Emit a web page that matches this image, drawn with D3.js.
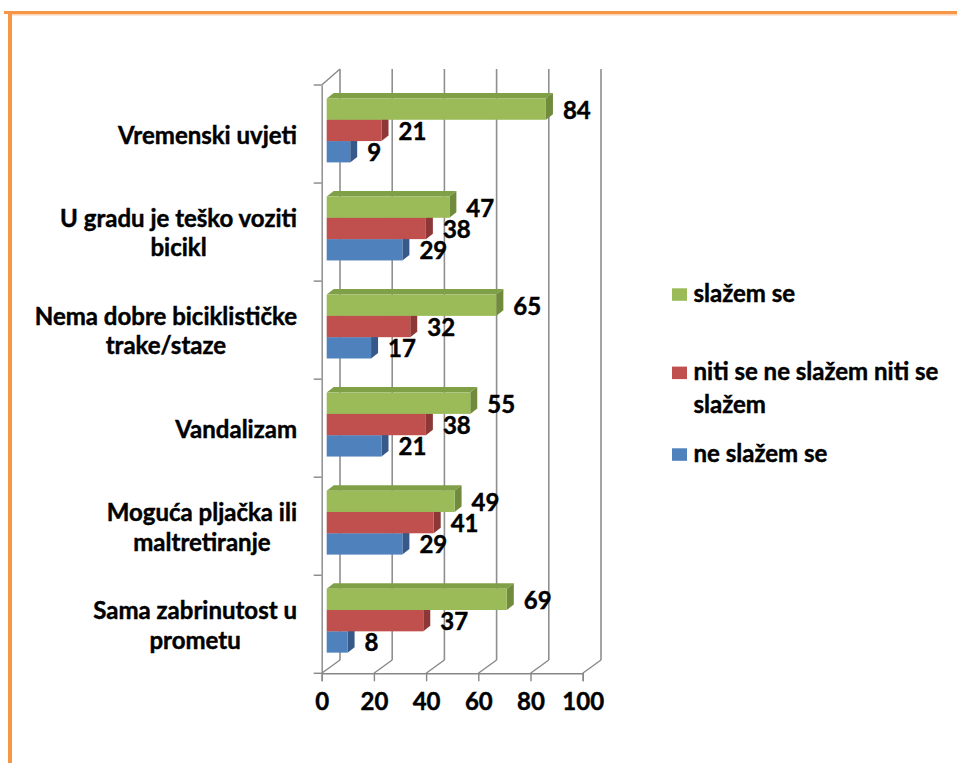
<!DOCTYPE html>
<html><head><meta charset="utf-8">
<script src="https://cdn.jsdelivr.net/npm/d3@7"></script>
<style>
html,body{margin:0;padding:0;background:#fff;}
svg{display:block;}
text{font-family:Lato,"Open Sans",sans-serif;font-weight:700;fill:#000;stroke:#000;stroke-width:0.45px;}
</style></head>
<body>
<svg id="chart" width="957" height="763"></svg>
<script>
// ---- data ----
const categories = [
  "Vremenski uvjeti",
  "U gradu je teško voziti bicikl",
  "Nema dobre biciklističke trake/staze",
  "Vandalizam",
  "Moguća pljačka ili maltretiranje",
  "Sama zabrinutost u prometu"
];
const categoryLines = [
  ["Vremenski uvjeti"],
  ["U gradu je teško voziti", "bicikl"],
  ["Nema dobre biciklističke", "trake/staze"],
  ["Vandalizam"],
  ["Moguća pljačka ili", "maltretiranje"],
  ["Sama zabrinutost u", "prometu"]
];
const seriesNames = ["slažem se", "niti se ne slažem niti se slažem", "ne slažem se"];
const legendLines = [["slažem se"], ["niti se ne slažem niti se", "slažem"], ["ne slažem se"]];
const slazemSe = [84, 47, 65, 55, 49, 69];
const niti = [21, 38, 32, 38, 41, 37];
const neSlazemSe = [9, 29, 17, 21, 29, 8];
const xTicks = [0, 20, 40, 60, 80, 100];

const seriesValues = [slazemSe, niti, neSlazemSe];
const frontColors = ["#9BBB59", "#C0504D", "#4F81BD"];
const topColors = ["#80A048", "#A0403D", "#3F6CA3"];
const sideColors = ["#6F8B3B", "#8D3836", "#37598A"];

// ---- layout ----
const svg = d3.select("#chart");
const frontX0 = 321.7, frontX1 = 582.7;
const plotTop = 85, plotBottom = 673.3;
const depth = {dx: 18.3, dy: -13.3};
const backTop = 69;
const barShift = {dx: 5, dy: -3.6};
const barDepth = {dx: 7, dy: -5.5};
const axisColor = "#878787";

// orange frame
svg.append("line").attr("x1", 8).attr("x2", 957).attr("y1", 14.8).attr("y2", 14.8)
  .attr("stroke", "#FBD4B4").attr("stroke-width", 1.5);
svg.append("line").attr("x1", 4).attr("x2", 957).attr("y1", 12.5).attr("y2", 12.5)
  .attr("stroke", "#F79646").attr("stroke-width", 3);
svg.append("line").attr("x1", 10).attr("x2", 10).attr("y1", 11).attr("y2", 763)
  .attr("stroke", "#F79646").attr("stroke-width", 4);

const xFront = d3.scaleLinear().domain([0, 100]).range([frontX0, frontX1]);
const xBack = v => xFront(v) + depth.dx;
const xBar = v => xFront(v) + barShift.dx;

const yBand = d3.scaleBand().domain(categories).range([plotTop, plotBottom]);
const ySeries = d3.scaleBand().domain(seriesNames).range([0, yBand.bandwidth()])
  .paddingInner(0).paddingOuter(0.8);

const g = svg.append("g");

// back wall gridlines
g.selectAll("line.grid").data(xTicks).join("line").attr("class", "grid")
  .attr("x1", d => xBack(d)).attr("x2", d => xBack(d))
  .attr("y1", plotBottom + depth.dy).attr("y2", backTop)
  .attr("stroke", "#8f8f8f").attr("stroke-width", 1.6);
// floor slants
g.selectAll("line.floor").data(xTicks).join("line").attr("class", "floor")
  .attr("x1", d => xFront(d)).attr("x2", d => xBack(d))
  .attr("y1", plotBottom).attr("y2", plotBottom + depth.dy)
  .attr("stroke", axisColor).attr("stroke-width", 1.4);
// front bottom axis
const xAxis = d3.axisBottom(xFront).tickValues(xTicks).tickSize(8).tickPadding(14);
const xa = g.append("g").attr("transform", `translate(0,${plotBottom})`).call(xAxis);
xa.select(".domain").attr("stroke", axisColor).attr("stroke-width", 1.4);
xa.selectAll(".tick line").attr("stroke", axisColor).attr("stroke-width", 1.4);
xa.selectAll(".tick text").attr("font-size", 24).attr("font-family", "Lato").attr("font-weight", 700)
  .attr("fill", "#000").attr("stroke", "#000").attr("stroke-width", 0.45).attr("dy", "0.6em");

// left axis
const yAxis = d3.axisLeft(yBand).tickValues([]).tickSizeOuter(0);
const ya = g.append("g").attr("transform", `translate(${frontX0},0)`).call(yAxis);
ya.select(".domain").attr("stroke", axisColor).attr("stroke-width", 1.4);
const boundaries = categories.map(c => yBand(c)).concat([plotBottom]);
g.selectAll("line.ytick").data(boundaries).join("line").attr("class", "ytick")
  .attr("x1", frontX0 - 8).attr("x2", frontX0).attr("y1", d => d).attr("y2", d => d)
  .attr("stroke", axisColor).attr("stroke-width", 1.4);
// top-left slant
g.append("line").attr("x1", frontX0).attr("y1", plotTop).attr("x2", xBack(0)).attr("y2", backTop)
  .attr("stroke", axisColor).attr("stroke-width", 1.4);

// bars
const bars = [];
categories.forEach((c, ci) => {
  seriesNames.forEach((s, si) => {
    bars.push({c, ci, s, si, v: seriesValues[si][ci]});
  });
});
// draw lower series first so upper bars overlap top faces
bars.sort((a, b) => (a.ci - b.ci) || (b.si - a.si));
const barG = g.append("g");
bars.forEach(d => {
  const x0 = xBar(0), x1 = xBar(d.v);
  const y0 = yBand(d.c) + ySeries(d.s) + barShift.dy;
  const h = ySeries.bandwidth();
  const bg = barG.append("g");
  bg.append("polygon")
    .attr("points", [[x0, y0], [x1, y0], [x1 + barDepth.dx, y0 + barDepth.dy], [x0 + barDepth.dx, y0 + barDepth.dy]].join(" "))
    .attr("fill", topColors[d.si]);
  bg.append("polygon")
    .attr("points", [[x1, y0], [x1 + barDepth.dx, y0 + barDepth.dy], [x1 + barDepth.dx, y0 + h + barDepth.dy], [x1, y0 + h]].join(" "))
    .attr("fill", sideColors[d.si]);
  bg.append("rect").attr("x", x0).attr("y", y0).attr("width", x1 - x0).attr("height", h)
    .attr("fill", frontColors[d.si]);
});
// value labels
barG.selectAll("text.val").data(bars).join("text").attr("class", "val")
  .attr("x", d => xBar(d.v) + barDepth.dx + 10)
  .attr("y", d => yBand(d.c) + ySeries(d.s) + barShift.dy + ySeries.bandwidth() / 2 + 9.5)
  .attr("font-size", 24)
  .text(d => d.v);

// category labels
const lineH = 29.5, labelRight = 297;
categories.forEach((c, ci) => {
  const lines = categoryLines[ci];
  const center = yBand(c) + yBand.bandwidth() / 2 + 1;
  const texts = lines.map((ln, li) => g.append("text")
    .attr("font-size", 24)
    .attr("y", center - (lines.length - 1) * lineH / 2 + li * lineH + 8.6)
    .attr("text-anchor", "middle")
    .text(ln));
  const maxW = d3.max(texts, t => t.node().getComputedTextLength());
  texts.forEach(t => t.attr("x", labelRight - maxW / 2));
});

// legend
const legendX = 672, legendY0 = 301.7, legendStep = 80, legendLineH = 33;
seriesNames.forEach((s, si) => {
  const base = legendY0 + si * legendStep - (si === 1 ? 1.7 : 0);
  svg.append("rect").attr("x", legendX).attr("y", base - 13.4).attr("width", 15).attr("height", 12.5)
    .attr("fill", frontColors[si]);
  legendLines[si].forEach((ln, li) => {
    svg.append("text").attr("x", legendX + 21.5).attr("y", base + li * legendLineH)
      .attr("font-size", 24).text(ln);
  });
});
</script>
</body></html>
